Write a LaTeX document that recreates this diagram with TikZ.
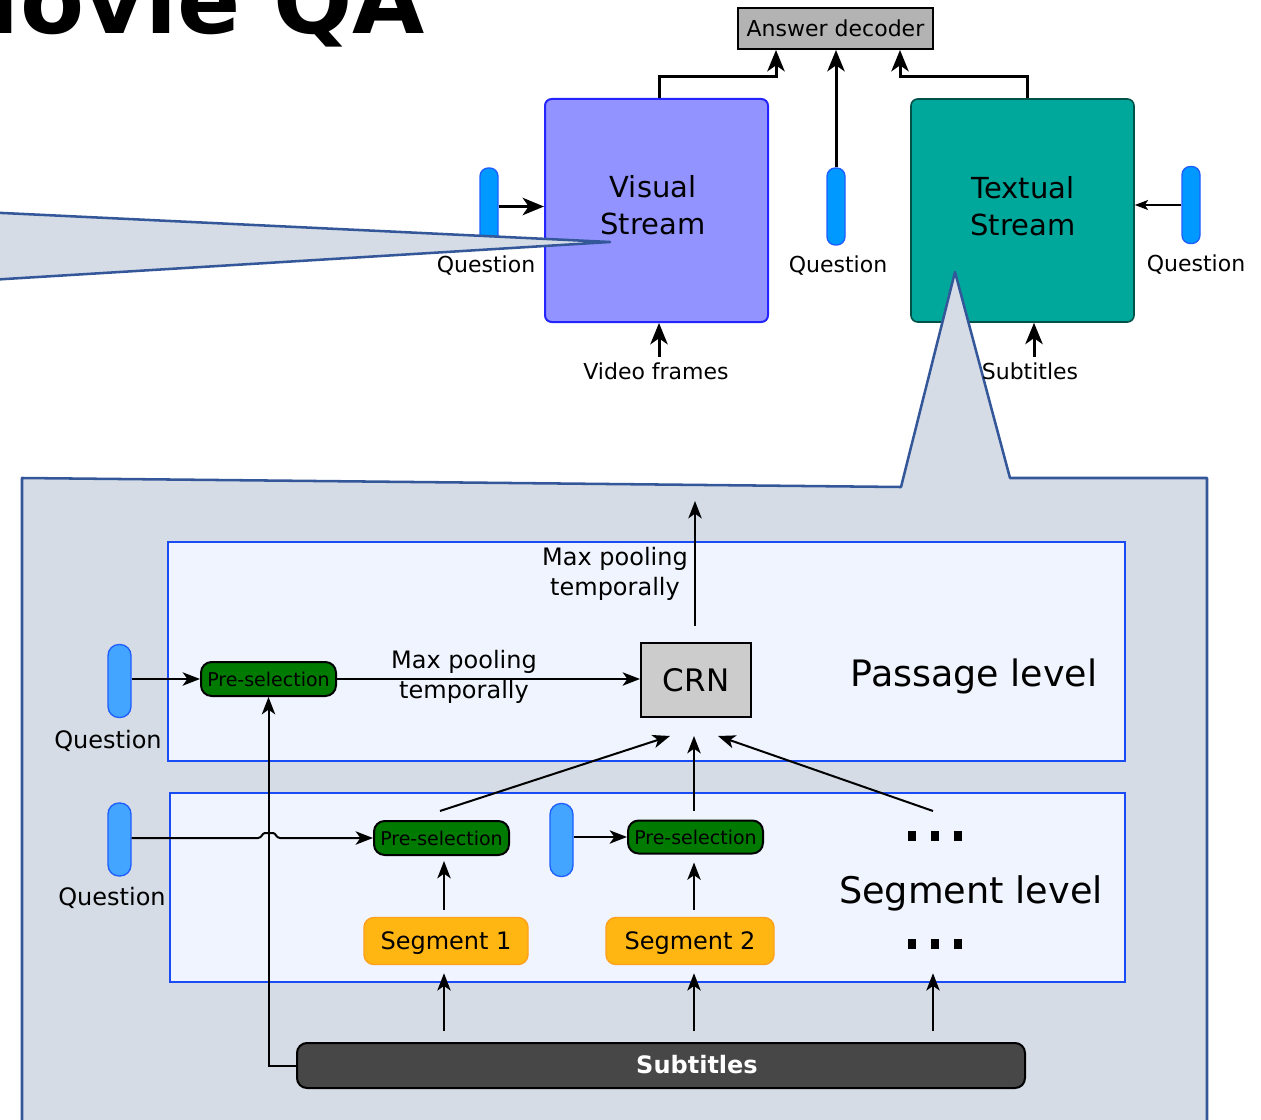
\documentclass[tikz,border=0pt]{standalone}
\usepackage{fontspec}
\setmainfont{DejaVu Sans}
\usetikzlibrary{arrows.meta,calc}

\definecolor{decgray}{HTML}{B3B3B3}
\definecolor{visfill}{HTML}{9393FF}
\definecolor{visdraw}{HTML}{2424FF}
\definecolor{txtfill}{HTML}{00A89B}
\definecolor{txtdraw}{HTML}{005248}
\definecolor{callfill}{HTML}{D5DCE6}
\definecolor{calldraw}{HTML}{34579A}
\definecolor{levfill}{HTML}{EFF4FE}
\definecolor{levdraw}{HTML}{1A4CF5}
\definecolor{pillA}{HTML}{0099FF}
\definecolor{pillB}{HTML}{43A5FF}
\definecolor{pilldraw}{HTML}{1E5EFF}
\definecolor{psgreen}{HTML}{007A00}
\definecolor{segfill}{HTML}{FFB612}
\definecolor{segdraw}{HTML}{FFA11B}
\definecolor{crnfill}{HTML}{CCCCCC}
\definecolor{subfill}{HTML}{474747}

\begin{document}
\begin{tikzpicture}[x=0.75pt,y=-0.75pt,
  sz/.style 2 args={minimum width=#1*0.75pt, minimum height=#2*0.75pt},
  fs/.style 2 args={font=\fontsize{#1}{#2}\selectfont},
  lbl/.style={inner sep=0pt, fs={16.5}{20}},
  qlow/.style={inner sep=0pt, fs={18}{22}},
  decbox/.style={draw, line width=1.5pt, fill=decgray, inner sep=0pt, fs={16.5}{20}},
  streambox/.style={line width=1.5pt, rounded corners=5pt, inner sep=0pt, align=center, fs={21.75}{27.75}},
  pilltop/.style={draw=pilldraw, fill=pillA, line width=1pt, rounded corners=6.2pt, inner sep=0pt, sz={18}{77}},
  pilllow/.style={draw=pilldraw, fill=pillB, line width=1pt, rounded corners=8.2pt, inner sep=0pt, sz={23}{73}},
  callout/.style={fill=callfill, draw=calldraw, line width=1.9pt, line join=round},
  level/.style={fill=levfill, draw=levdraw, line width=1.9pt, inner sep=0pt},
  presel/.style={draw, line width=1.5pt, fill=psgreen, rounded corners=8pt, inner sep=0pt, sz={135}{34}, fs={14.25}{16}},
  segbox/.style={draw=segdraw, fill=segfill, line width=1.1pt, rounded corners=7.5pt, inner sep=0pt, text depth=0pt, fs={18}{22}},
  crnbox/.style={draw, line width=1.5pt, fill=crnfill, inner sep=0pt, fs={23.25}{26}},
  mplbl/.style={inner sep=0pt, align=center, fs={18}{22.5}},
  bigarr/.style={line width=2.25pt, -{Stealth[length=16pt,width=13pt,inset=4.5pt]}},
  arr/.style={line width=1.5pt, -{Stealth[length=13pt,width=10pt,inset=3.5pt]}},
  thinarr/.style={line width=1.1pt, -{Stealth[length=10pt,width=7.5pt,inset=2.5pt]}},
]
\useasboundingbox (0,0) rectangle (1261,1120);

% ---------- title ----------
\node[anchor=base east, inner sep=0pt, font=\fontsize{70}{70}\selectfont\bfseries] (title) at (425,34) {Movie QA};

% ---------- top: two streams and the answer decoder ----------
\node[decbox, sz={195}{41}] (dec) at (835.5,28.5) {Answer decoder};
\node[streambox, draw=visdraw, fill=visfill, sz={223}{223}] (vis) at (656.5,210.5) {};
\node[inner sep=0pt, align=center, fs={21.75}{27.75}] (vist) at (653,205) {Visual\\Stream};
\node[streambox, draw=txtdraw, fill=txtfill, line width=1.2pt, sz={223}{223}] (txt) at (1022.5,210.5) {};
\node[inner sep=0pt, align=center, fs={21.75}{27.75}] (txtt) at (1023,206) {Textual\\Stream};

\node[pilltop] (qv) at (489,206.5) {};
\node[pilltop] (qm) at (836,206.5) {};
\node[pilltop] (qt) at (1191,205) {};

\node[lbl] (qvl) at (486,266) {Question};
\node[lbl] (qml) at (838,266) {Question};
\node[lbl] (qtl) at (1196,265) {Question};
\node[lbl] (vfl) at (656,371) {Video frames};

\draw[bigarr] ($(vis.north)+(3,0)$) |- ($(dec.south)+(-59.5,27)$) -- ($(dec.south)+(-59.5,0)$);
\draw[bigarr] (qm.north) -- (qm.north |- dec.south);
\draw[bigarr] ($(txt.north)+(4.5,0)$) |- ($(dec.south)+(64.5,27)$) -- ($(dec.south)+(64.5,0)$);
\draw[bigarr] (qv.east) -- (qv.east -| vis.west);
\draw[thinarr] (qt.west) -- (qt.west -| txt.east);
\draw[bigarr] ($(vis.south)+(2.5,34)$) -- ($(vis.south)+(2.5,0)$);
\draw[bigarr] ($(txt.south)+(11.5,34)$) -- ($(txt.south)+(11.5,0)$);

% ---------- callouts ----------
\filldraw[callout] (-60,210) -- (610,242) -- (-60,283) -- cycle;
\filldraw[callout] (22,1140) -- (22,478) -- (901,487) -- (955,272) -- (1010,478) -- (1207,478) -- (1207,1140) -- cycle;

\node[lbl] (stl) at (1030,371) {Subtitles};

% ---------- passage level ----------
\node[level, sz={957}{219}] (pass) at (646.5,651.5) {};
\node[anchor=base, inner sep=0pt, fs={27.3}{32}] (passt) at (974,686) {Passage level};

\node[crnbox, sz={110}{74}] (crn) at (696,680) {CRN};
\node[pilllow] (pq1) at (119.5,681) {};
\node[qlow] (pq1l) at (108,741) {Question};
\node[presel] (ps0) at (268.5,679) {Pre-selection};
\node[mplbl] (mp0) at (464,677) {Max pooling\\temporally};
\node[mplbl] (mp1) at (615,574) {Max pooling\\temporally};

\draw[arr] (pq1.east |- ps0.west) -- (ps0.west);
\draw[arr] (ps0.east) -- (ps0.east -| crn.west);
\draw[arr] ($(crn.north)+(-1,-16)$) -- ($(crn.north)+(-1,-141)$);

% ---------- segment level ----------
\node[level, sz={955}{189}] (segl) at (647.5,887.5) {};
\node[anchor=base, inner sep=0pt, fs={27.5}{32}] (segt) at (971,903) {Segment level};

\node[pilllow] (pq2) at (119.5,839.5) {};
\node[qlow] (pq2l) at (112,898) {Question};
\node[pilllow] (pq3) at (561.5,840) {};
\node[presel] (ps1) at (441.5,838) {Pre-selection};
\node[presel, sz={135}{33}] (ps2) at (695.5,837) {Pre-selection};
\node[segbox, sz={164}{47}] (seg1) at (446,941) {Segment 1};
\node[segbox, sz={168}{47}] (seg2) at (690,941) {Segment 2};
\coordinate (dotsA) at (935,836);
\coordinate (dotsB) at (935,944);
\foreach \dx in {-23,0,23} {
  \fill ($(dotsA)+(\dx-4,-5)$) rectangle ++(8,10);
  \fill ($(dotsB)+(\dx-4,-5)$) rectangle ++(8,10);
}

\node[draw, line width=1.5pt, fill=subfill, rounded corners=7.5pt, inner sep=0pt, sz={728}{45}] (sub) at (661,1065.5) {};
\node[inner sep=0pt, text=white, font=\fontsize{18}{22}\selectfont\bfseries] (subt) at (697,1065) {Subtitles};

\coordinate (c1) at (444,0);
\coordinate (c2) at (694,0);
\coordinate (c3) at (933,0);

% question into the first segment pre-selection, hopping over the subtitle line
\draw[arr] (pq2.east |- ps1.west) -- (258,838) .. controls (262,838) and (262,833) .. (265,833) -- (273,833) .. controls (276,833) and (276,838) .. (280,838) -- (ps1.west);
\draw[arr] (pq3.east |- ps2.west) -- (ps2.west);
\draw[arr] (sub.west) -| (ps0.south);

\draw[arr] ($(c1 |- seg1.north)+(0,-7)$) -- ($(c1 |- ps1.south)+(0,5)$);
\draw[arr] ($(c2 |- seg2.north)+(0,-7)$) -- ($(c2 |- ps2.south)+(0,8)$);

\draw[arr] ($(c1 |- sub.north)+(0,-11)$) -- ($(c1 |- seg1.south)+(0,8)$);
\draw[arr] ($(c2 |- sub.north)+(0,-11)$) -- ($(c2 |- seg2.south)+(0,8)$);
\draw[arr] ($(c3 |- sub.north)+(0,-11)$) -- ($(c3 |- seg2.south)+(0,8)$);

\draw[arr] ($(ps1.north)+(-1.5,-9)$) -- ($(crn.south)+(-26,18)$);
\draw[arr] ($(c2 |- ps2.north)+(0,-9)$) -- ($(c2 |- crn.south)+(0,18)$);
\draw[arr] ($(c3 |- dotsA)+(0,-25)$) -- ($(crn.south)+(22,18)$);
\end{tikzpicture}
\end{document}
